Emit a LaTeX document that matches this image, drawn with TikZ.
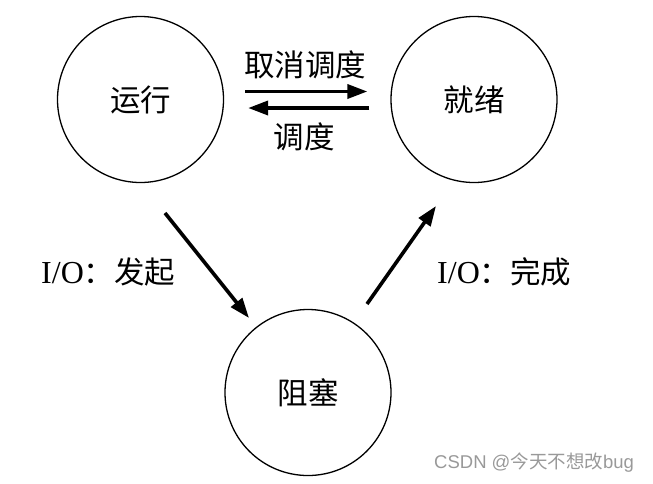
\documentclass[tikz,border=0pt]{standalone}
\usepackage{fontspec}
\setmainfont{Liberation Serif}
\newfontfamily\cjk{Noto Sans CJK SC}
\usetikzlibrary{arrows.meta}
\begin{document}
\begin{tikzpicture}[x=1pt,y=-1pt,
  state/.style={circle,draw,line width=1.3pt,minimum size=166pt,inner sep=0pt,font=\cjk\fontsize{30.5}{30.5}\selectfont},
  arr/.style={line width=3.6pt,-{Triangle[length=20pt,width=14pt]}},
  lbl/.style={inner sep=0pt,font=\cjk\fontsize{30.5}{30.5}\selectfont},
  wm/.style={inner sep=0pt,text=black!40,font=\fontspec{Liberation Sans}\fontsize{18.5}{18.5}\selectfont}]
\useasboundingbox (0,0) rectangle (653,483);
\node[state] (run) at (140.5,99.5) {运行};
\node[state] (ready) at (474,99.5) {就绪};
\node[state] (block) at (308,392.5) {阻塞};
\draw[arr,shorten <=21pt,shorten >=23pt] ([yshift=8pt]run.east) -- ([yshift=8pt]ready.west);
\draw[arr,shorten <=21pt,shorten >=24pt] ([yshift=-8.5pt]ready.west) -- ([yshift=-8.5pt]run.east);
\coordinate (s1) at (165,213);
\coordinate (t1) at (249,318);
\coordinate (s2) at (367,304);
\coordinate (t2) at (436,206);
\draw[arr] (s1) -- (t1);
\draw[arr] (s2) -- (t2);
\node[lbl] (l1) at (305,65) {取消调度};
\node[lbl] (l2) at (304,137) {调度};
\node[anchor=west,inner sep=0pt] (l3) at (41,272) {{\fontsize{32}{32}\selectfont I/O}{\cjk\fontsize{30.5}{30.5}\selectfont ：发起}};
\node[anchor=west,inner sep=0pt] (l4) at (437,272) {{\fontsize{32}{32}\selectfont I/O}{\cjk\fontsize{30.5}{30.5}\selectfont ：完成}};
\node[wm,anchor=west] (w) at (434,463) {CSDN @{\cjk 今天不想改}bug};
\end{tikzpicture}
\end{document}
